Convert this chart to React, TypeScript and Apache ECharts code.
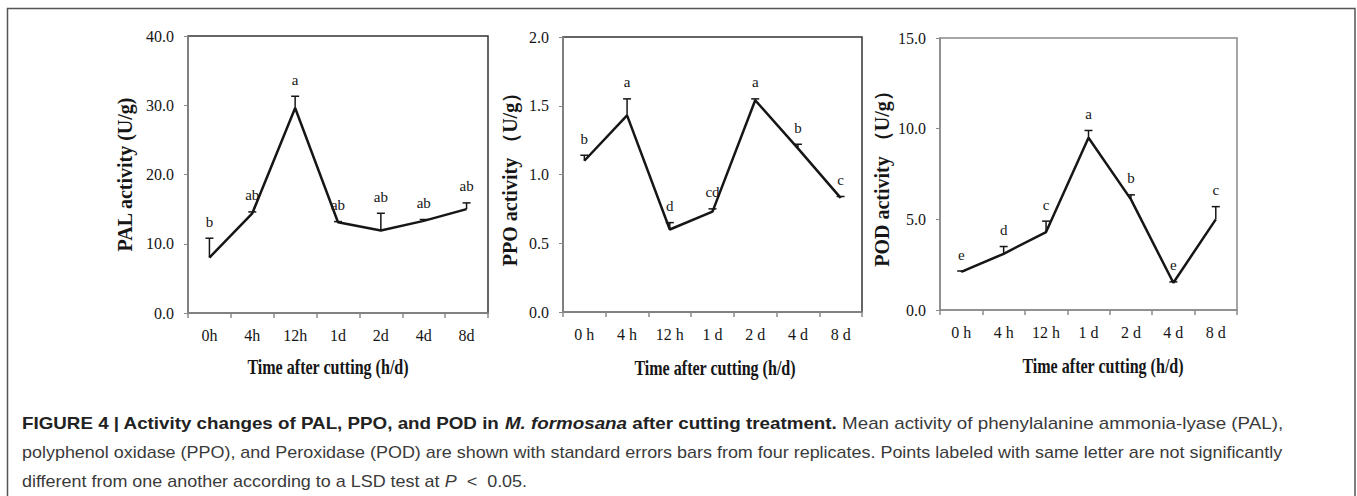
import React, { useEffect, useRef } from "react";
import * as echarts from "echarts";

const categoriesPAL = ["0h", "4h", "12h", "1d", "2d", "4d", "8d"];
const categoriesSpaced = ["0 h", "4 h", "12 h", "1 d", "2 d", "4 d", "8 d"];

const palMean = [8.0, 14.4, 29.6, 13.1, 11.9, 13.3, 15.0];
const palErr = [2.8, 0.2, 1.7, 0.1, 2.5, 0.2, 0.9];
const palLetters = ["b", "ab", "a", "ab", "ab", "ab", "ab"];

const ppoMean = [1.1, 1.43, 0.6, 0.73, 1.54, 1.19, 0.83];
const ppoErr = [0.04, 0.12, 0.05, 0.02, 0.01, 0.03, 0.01];
const ppoLetters = ["b", "a", "d", "cd", "a", "b", "c"];

const podMean = [2.1, 3.1, 4.3, 9.5, 6.1, 1.5, 5.0];
const podErr = [0.05, 0.4, 0.6, 0.4, 0.25, 0.05, 0.7];
const podLetters = ["e", "d", "c", "a", "b", "e", "c"];

const yTitles = ["PAL activity (U/g)", "PPO activity （U/g）", "POD activity （U/g）"];
const xTitle = "Time after cutting (h/d)";

const SERIF = '"Liberation Serif", "Times New Roman", serif';
const SANS = '"Liberation Sans", Arial, sans-serif';
const INK = "#161616";

function errSeries(idx: number, means: number[], errs: number[], letters: string[]) {
  return {
    type: "custom",
    xAxisIndex: idx,
    yAxisIndex: idx,
    z: 3,
    data: means.map((m, i) => [i, m, errs[i]]),
    renderItem: (params: any, api: any) => {
      const x = api.value(0);
      const m = api.value(1);
      const e = api.value(2);
      const p0 = api.coord([x, m]);
      const p1 = api.coord([x, m + e]);
      return {
        type: "group",
        children: [
          { type: "line", shape: { x1: p0[0], y1: p0[1], x2: p1[0], y2: p1[1] }, style: { stroke: INK, lineWidth: 1.5 } },
          { type: "line", shape: { x1: p1[0] - 4, y1: p1[1], x2: p1[0] + 4, y2: p1[1] }, style: { stroke: INK, lineWidth: 1.5 } },
          {
            type: "text",
            x: p1[0],
            y: p1[1] - 9,
            style: {
              text: letters[params.dataIndex],
              fill: INK,
              fontSize: 15,
              fontFamily: SERIF,
              align: "center",
              verticalAlign: "bottom",
            },
          },
        ],
      };
    },
  };
}

function lineSeries(idx: number, means: number[]) {
  return {
    type: "line",
    xAxisIndex: idx,
    yAxisIndex: idx,
    data: means,
    symbol: "none",
    z: 4,
    lineStyle: { color: INK, width: 2.5 },
  };
}

export default function App() {
  const ref = useRef<HTMLDivElement>(null);
  useEffect(() => {
    if (!ref.current) return;
    const chart = echarts.init(ref.current, undefined, { renderer: "svg" });
    const grids = [
      { left: 188, top: 36, width: 300, height: 277, borderColor: "#333" },
      { left: 563, top: 37, width: 299, height: 275, borderColor: "#333" },
      { left: 940, top: 38, width: 297, height: 272, borderColor: "#888" },
    ];
    const yRanges = [
      { max: 40, interval: 10 },
      { max: 2, interval: 0.5 },
      { max: 15, interval: 5 },
    ];
    const nameGaps = [53, 43, 48];
    const cats = [categoriesPAL, categoriesSpaced, categoriesSpaced];
    const xTitlePos = [
      [328, 367],
      [715, 368],
      [1103, 366],
    ];
    const capFont = 17;
    const option: any = {
      animation: false,
      grid: grids.map((g) => ({
        left: g.left,
        top: g.top,
        width: g.width,
        height: g.height,
        show: true,
        borderColor: g.borderColor,
        borderWidth: 1.5,
        backgroundColor: "transparent",
      })),
      xAxis: cats.map((c, i) => ({
        type: "category",
        gridIndex: i,
        data: c,
        boundaryGap: true,
        axisLine: { lineStyle: { color: "#8a8a8a", width: 1.5 } },
        axisTick: { show: true, length: 5, inside: false, lineStyle: { color: "#8a8a8a", width: 1.5 } },
        axisLabel: { color: INK, fontFamily: SERIF, fontSize: 16, margin: 14 },
        splitLine: { show: false },
      })),
      yAxis: yRanges.map((r, i) => ({
        type: "value",
        gridIndex: i,
        min: 0,
        max: r.max,
        interval: r.interval,
        name: yTitles[i],
        nameLocation: "middle",
        nameGap: nameGaps[i],
        nameTextStyle: { color: INK, fontFamily: SERIF, fontWeight: "bold", fontSize: 20 },
        axisLine: { show: true, lineStyle: { color: "#8a8a8a", width: 1.5 } },
        axisTick: { show: true, length: 4, lineStyle: { color: "#8a8a8a" } },
        axisLabel: {
          color: INK,
          fontFamily: SERIF,
          fontSize: 16,
          margin: 14,
          formatter: (v: number) => v.toFixed(1),
        },
        splitLine: { show: false },
      })),
      series: [
        errSeries(0, palMean, palErr, palLetters),
        lineSeries(0, palMean),
        errSeries(1, ppoMean, ppoErr, ppoLetters),
        lineSeries(1, ppoMean),
        errSeries(2, podMean, podErr, podLetters),
        lineSeries(2, podMean),
      ],
      graphic: [
        {
          type: "rect",
          shape: { x: 7.5, y: 8.5, width: 1347.5, height: 520 },
          style: { fill: "none", stroke: "#555", lineWidth: 1.5 },
          silent: true,
        },
        ...xTitlePos.map((p) => ({
          type: "text",
          x: p[0],
          y: p[1],
          scaleX: 0.73,
          style: {
            text: xTitle,
            fill: INK,
            fontFamily: SERIF,
            fontWeight: "bold",
            fontSize: 22,
            align: "center",
            verticalAlign: "middle",
          },
        })),
        {
          type: "text",
          x: 22,
          y: 423,
          scaleX: 1.105,
          style: {
            text:
              "{b|FIGURE 4 | Activity changes of PAL, PPO, and POD in }{bi|M. formosana}{b| after cutting treatment.}{n| Mean activity of phenylalanine ammonia-lyase (PAL),}",
            verticalAlign: "middle",
            rich: {
              b: { fontFamily: SANS, fontSize: capFont, fontWeight: "bold", fill: "#222" },
              bi: { fontFamily: SANS, fontSize: capFont, fontWeight: "bold", fontStyle: "italic", fill: "#222" },
              n: { fontFamily: SANS, fontSize: capFont, fill: "#3a3a3a" },
            },
          },
        },
        {
          type: "text",
          x: 22,
          y: 452,
          scaleX: 1.056,
          style: {
            text:
              "polyphenol oxidase (PPO), and Peroxidase (POD) are shown with standard errors bars from four replicates. Points labeled with same letter are not significantly",
            fontFamily: SANS,
            fontSize: capFont,
            fill: "#3a3a3a",
            verticalAlign: "middle",
          },
        },
        {
          type: "text",
          x: 22,
          y: 481,
          scaleX: 1.056,
          style: {
            text: "{n|different from one another according to a LSD test at }{i|P}{n|  <  0.05.}",
            verticalAlign: "middle",
            rich: {
              n: { fontFamily: SANS, fontSize: capFont, fill: "#3a3a3a" },
              i: { fontFamily: SANS, fontSize: capFont, fontStyle: "italic", fill: "#3a3a3a" },
            },
          },
        },
      ],
    };
    chart.setOption(option);
    return () => chart.dispose();
  }, []);
  return (
    <div
      ref={ref}
      style={{ position: "absolute", left: 0, top: 0, width: 1357, height: 496, background: "#fff" }}
    />
  );
}
